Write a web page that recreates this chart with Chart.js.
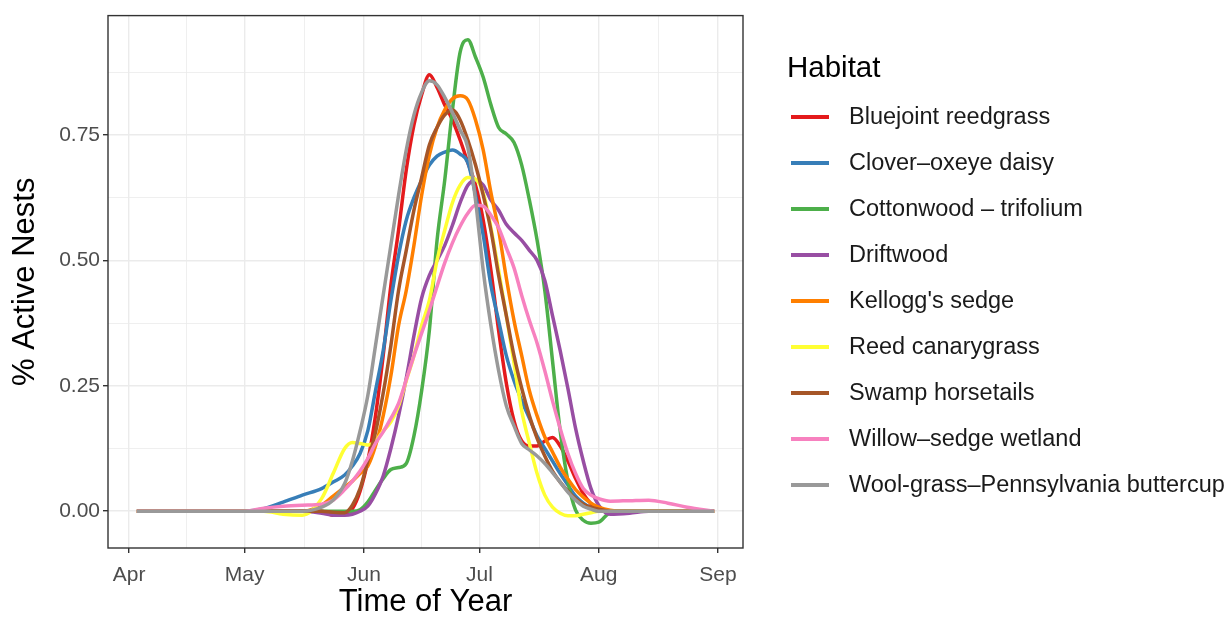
<!DOCTYPE html>
<html>
<head>
<meta charset="utf-8">
<script src="https://cdn.jsdelivr.net/npm/chart.js@4.4.1/dist/chart.umd.min.js"></script>
<style>
  html, body { margin: 0; padding: 0; background: #fff; }
  #wrap { width: 1230px; height: 617px; }
</style>
</head>
<body>
<div id="wrap"><canvas id="nest_chart" width="1230" height="617"></canvas></div>
<script>
// habitats, in legend order
const habitats = [
    "Bluejoint reedgrass",
    "Clover\u2013oxeye daisy",
    "Cottonwood \u2013 trifolium",
    "Driftwood",
    "Kellogg's sedge",
    "Reed canarygrass",
    "Swamp horsetails",
    "Willow\u2013sedge wetland",
    "Wool-grass\u2013Pennsylvania buttercup"
];
const colors = ["#E41A1C", "#377EB8", "#4DAF4A", "#984EA3", "#FF7F00", "#FFFF33", "#A65628", "#F781BF", "#999999"];

// days counted from 1 April
const days = [2, 30, 35, 40, 45, 50, 53, 56, 58, 60, 62, 64, 66, 68, 70, 72, 74, 76, 78, 80, 82, 84, 86, 88,
    90, 92, 94, 96, 98, 100, 102, 104, 106, 108, 110, 112, 114, 116, 118, 120, 122, 125, 130, 135, 140, 145, 152];

// smoothed share of active nests
const bluejoint = [0, 0, 0, 0, 0, 0, -0.008, -0.006, 0.005, 0.04, 0.10, 0.19, 0.31, 0.45, 0.56, 0.68, 0.77, 0.83, 0.87, 0.845,
    0.81, 0.78, 0.74, 0.695, 0.65, 0.58, 0.48, 0.36, 0.255, 0.18, 0.14, 0.13, 0.13, 0.14, 0.147, 0.13, 0.10, 0.065, 0.035,
    0.015, 0.005, 0, 0, 0, 0, 0, 0];
const clover = [0, 0, 0.005, 0.018, 0.032, 0.045, 0.058, 0.072, 0.09, 0.115, 0.16, 0.24, 0.32, 0.42, 0.51, 0.58, 0.625, 0.66,
    0.69, 0.708, 0.716, 0.72, 0.712, 0.695, 0.63, 0.55, 0.45, 0.38, 0.31, 0.26, 0.22, 0.185, 0.15, 0.125, 0.10, 0.075, 0.052,
    0.03, 0.016, 0.007, 0.002, 0, 0, 0, 0, 0, 0];
const cottonwood = [0, 0, 0, 0, 0, 0, 0, 0, 0, 0.003, 0.018, 0.042, 0.065, 0.083, 0.087, 0.095, 0.15, 0.24, 0.36, 0.54,
    0.66, 0.80, 0.915, 0.94, 0.905, 0.865, 0.81, 0.765, 0.752, 0.735, 0.69, 0.62, 0.54, 0.44, 0.30, 0.16, 0.06, 0.002,
    -0.018, -0.024, -0.022, -0.003, 0, 0, 0, 0, 0];
const driftwood = [0, 0, 0, 0, 0, -0.004, -0.008, -0.008, -0.006, 0.0, 0.01, 0.035, 0.07, 0.125, 0.19, 0.265, 0.35, 0.425,
    0.47, 0.50, 0.53, 0.57, 0.615, 0.65, 0.66, 0.65, 0.62, 0.60, 0.572, 0.555, 0.54, 0.52, 0.50, 0.46, 0.39, 0.32, 0.245,
    0.165, 0.10, 0.045, 0.012, -0.006, -0.004, 0, 0, 0, 0];
const kellogg = [0, 0, 0, 0, 0, 0.012, 0.03, 0.048, 0.06, 0.075, 0.09, 0.13, 0.19, 0.27, 0.37, 0.44, 0.53, 0.63, 0.71,
    0.765, 0.80, 0.822, 0.828, 0.82, 0.78, 0.72, 0.635, 0.56, 0.465, 0.38, 0.31, 0.24, 0.19, 0.148, 0.118, 0.088, 0.064,
    0.043, 0.028, 0.016, 0.008, 0.002, 0, 0, 0, 0, 0];
const canary = [0, 0, 0, -0.006, -0.008, 0.025, 0.075, 0.125, 0.137, 0.135, 0.132, 0.14, 0.16, 0.178, 0.21, 0.26, 0.31,
    0.37, 0.42, 0.50, 0.56, 0.615, 0.65, 0.665, 0.662, 0.635, 0.565, 0.48, 0.39, 0.295, 0.20, 0.135, 0.075, 0.032, 0.008,
    -0.004, -0.009, -0.009, -0.006, -0.003, 0, 0, 0, 0, 0, 0, 0];
const horsetails = [0, 0, 0, 0, 0, 0, -0.002, -0.003, 0.012, 0.045, 0.10, 0.157, 0.235, 0.33, 0.44, 0.52, 0.60, 0.665,
    0.73, 0.765, 0.79, 0.80, 0.78, 0.74, 0.69, 0.63, 0.56, 0.47, 0.39, 0.31, 0.245, 0.19, 0.145, 0.11, 0.08, 0.058, 0.04,
    0.025, 0.014, 0.008, 0.004, 0, 0, 0, 0, 0, 0];
const willow = [0, 0, 0.006, 0.01, 0.012, 0.014, 0.022, 0.043, 0.06, 0.08, 0.105, 0.135, 0.158, 0.185, 0.215, 0.262, 0.31,
    0.355, 0.40, 0.448, 0.495, 0.535, 0.568, 0.594, 0.61, 0.608, 0.59, 0.565, 0.525, 0.485, 0.43, 0.38, 0.335, 0.28, 0.22,
    0.165, 0.115, 0.075, 0.045, 0.032, 0.025, 0.02, 0.021, 0.022, 0.016, 0.008, 0];
const woolgrass = [0, 0, 0, 0, 0, 0.008, 0.022, 0.055, 0.10, 0.16, 0.23, 0.33, 0.43, 0.53, 0.63, 0.72, 0.79, 0.835, 0.858,
    0.85, 0.825, 0.795, 0.76, 0.725, 0.62, 0.48, 0.37, 0.28, 0.21, 0.17, 0.135, 0.122, 0.11, 0.095, 0.077, 0.058, 0.038,
    0.022, 0.01, 0.004, 0, 0, 0, 0, 0, 0, 0];

const series = [bluejoint, clover, cottonwood, driftwood, kellogg, canary, horsetails, willow, woolgrass];

// axis breaks
const monthDays = [0, 30, 61, 91, 122, 153];
const monthLabels = ["Apr", "May", "Jun", "Jul", "Aug", "Sep"];
const minorDays = [15, 45.5, 76, 106.5, 137.5];
const yBreaks = [0, 0.25, 0.5, 0.75];
const yMinor = [0.125, 0.375, 0.625, 0.875];

Chart.defaults.font.family = "'Liberation Sans', Arial, sans-serif";

const isMajorX = v => monthDays.includes(v);
const isMajorY = v => yBreaks.includes(v);

// legend drawn on the right, ggplot style
const habitatLegend = {
    id: 'habitatLegend',
    afterDraw(chart) {
        const ctx = chart.ctx;
        ctx.save();
        ctx.fillStyle = '#000';
        ctx.textBaseline = 'middle';
        ctx.font = "29.5px 'Liberation Sans', Arial, sans-serif";
        ctx.fillText("Habitat", 787, 69);
        ctx.font = "23.5px 'Liberation Sans', Arial, sans-serif";
        chart.data.datasets.forEach((ds, i) => {
            const y = 117 + i * 46;
            ctx.strokeStyle = ds.borderColor;
            ctx.lineWidth = 4;
            ctx.beginPath();
            ctx.moveTo(791, y);
            ctx.lineTo(829, y);
            ctx.stroke();
            ctx.fillStyle = '#1a1a1a';
            ctx.fillText(ds.label, 849, y + 1);
        });
        ctx.restore();
    }
};

// panel border on top of the lines
const panelBorder = {
    id: 'panelBorder',
    afterDatasetsDraw(chart) {
        const a = chart.chartArea;
        const ctx = chart.ctx;
        ctx.save();
        ctx.strokeStyle = '#333333';
        ctx.lineWidth = 1.4;
        ctx.strokeRect(a.left, a.top, a.right - a.left, a.bottom - a.top);
        ctx.restore();
    }
};

const nest_chart = document.getElementById("nest_chart").getContext('2d');
new Chart(nest_chart, {
    type: 'line',
    data: {
        datasets: habitats.map((name, i) => ({
            label: name,
            data: days.map((d, j) => ({ x: d, y: series[i][j] })),
            borderColor: colors[i],
            backgroundColor: colors[i],
            borderWidth: 3.5,
            pointRadius: 0,
            fill: false,
            cubicInterpolationMode: 'monotone',
            order: habitats.length - i
        }))
    },
    options: {
        responsive: false,
        animation: false,
        layout: { padding: { top: 13, right: 487, left: 0, bottom: 0 } },
        plugins: {
            legend: { display: false },
            tooltip: { enabled: false }
        },
        scales: {
            x: {
                type: 'linear',
                min: -5.5,
                max: 159.5,
                afterBuildTicks: scale => {
                    scale.ticks = monthDays.concat(minorDays).sort((a, b) => a - b).map(v => ({ value: v }));
                },
                afterFit: scale => { scale.height = 69; },
                ticks: {
                    autoSkip: false,
                    maxRotation: 0,
                    padding: 10,
                    color: '#4D4D4D',
                    font: { size: 21 },
                    callback: v => isMajorX(v) ? monthLabels[monthDays.indexOf(v)] : ''
                },
                grid: {
                    color: '#EBEBEB',
                    lineWidth: c => isMajorX(c.tick.value) ? 1.4 : 0.8,
                    tickColor: c => isMajorX(c.tick.value) ? '#333333' : 'rgba(0,0,0,0)',
                    tickWidth: 1.4,
                    tickLength: 5
                },
                border: { display: false },
                title: {
                    display: true,
                    text: 'Time of Year',
                    color: '#000',
                    font: { size: 31, lineHeight: 1 },
                    padding: { top: 0, bottom: -1 }
                }
            },
            y: {
                min: -0.0734,
                max: 0.988,
                afterBuildTicks: scale => {
                    scale.ticks = yBreaks.concat(yMinor).sort((a, b) => a - b).map(v => ({ value: v }));
                },
                afterFit: scale => { scale.width = 108; },
                ticks: {
                    padding: 3,
                    color: '#4D4D4D',
                    font: { size: 21 },
                    callback: v => isMajorY(v) ? v.toFixed(2) : ''
                },
                grid: {
                    color: '#EBEBEB',
                    lineWidth: c => isMajorY(c.tick.value) ? 1.4 : 0.8,
                    tickColor: c => isMajorY(c.tick.value) ? '#333333' : 'rgba(0,0,0,0)',
                    tickWidth: 1.4,
                    tickLength: 5
                },
                border: { display: false },
                title: {
                    display: true,
                    text: '% Active Nests',
                    color: '#000',
                    font: { size: 31, lineHeight: 1 },
                    padding: { top: 10, bottom: 0 }
                }
            }
        }
    },
    plugins: [panelBorder, habitatLegend]
});
</script>
</body>
</html>
